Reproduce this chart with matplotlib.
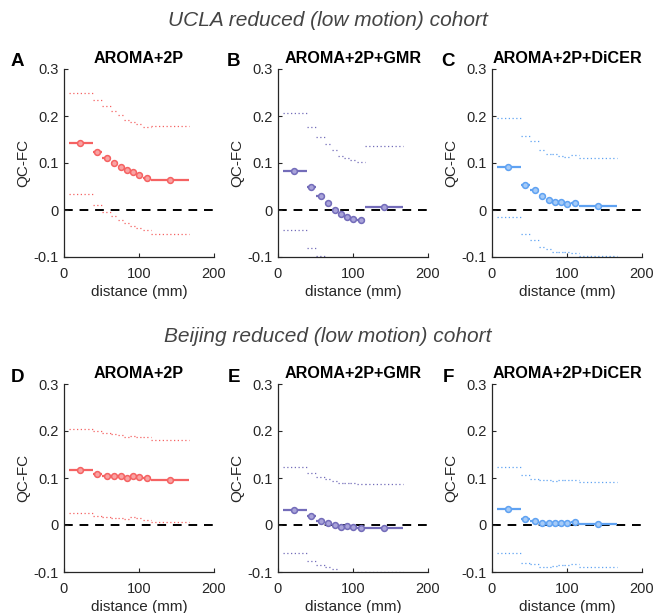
import matplotlib
matplotlib.use("Agg")
import matplotlib.pyplot as plt
import numpy as np

plt.rcParams['font.family'] = ['Liberation Sans', 'DejaVu Sans']

# ---- data ----
bin_edges = [6, 38, 51, 62, 72, 80, 88, 96, 105, 116, 166]
bin_centers = [21, 44.5, 57, 67, 76.5, 84.5, 92, 100.5, 110.5, 141]

x_ticks = [0, 100, 200]
y_ticks = [-0.1, 0, 0.1, 0.2, 0.3]
y_ticklabels = ['-0.1', '0', '0.1', '0.2', '0.3']

panel_letters = ['A', 'B', 'C', 'D', 'E', 'F']
panel_titles = ['AROMA+2P', 'AROMA+2P+GMR', 'AROMA+2P+DiCER'] * 2
cohort_titles = ['UCLA reduced (low motion) cohort', 'Beijing reduced (low motion) cohort']

ucla_aroma = [0.142, 0.1225, 0.110, 0.1005, 0.0913, 0.085, 0.080, 0.075, 0.068, 0.0644]
ucla_aroma_hi = [0.249, 0.234, 0.222, 0.211, 0.202, 0.192, 0.188, 0.183, 0.176, 0.178]
ucla_aroma_lo = [0.033, 0.010, -0.004, -0.012, -0.021, -0.028, -0.033, -0.0375, -0.042, -0.051]

ucla_gmr = [0.0828, 0.0488, 0.0304, 0.0149, 0.0, -0.0092, -0.0149, -0.019, -0.022, 0.0057]
ucla_gmr_hi = [0.2067, 0.1756, 0.1558, 0.1395, 0.128, 0.1154, 0.110, 0.106, 0.103, 0.137]
ucla_gmr_lo = [-0.043, -0.081, -0.097, -0.11, -0.12, -0.125, -0.13, -0.13, -0.13, -0.12]

ucla_dicer = [0.0906, 0.053, 0.0418, 0.0297, 0.021, 0.0163, 0.017, 0.0135, 0.014, 0.0085]
ucla_dicer_hi = [0.195, 0.158, 0.1465, 0.127, 0.120, 0.1196, 0.115, 0.1125, 0.116, 0.1097]
ucla_dicer_lo = [-0.0156, -0.052, -0.064, -0.0786, -0.083, -0.089, -0.089, -0.089, -0.0906, -0.097]

bj_aroma = [0.1165, 0.1087, 0.105, 0.1037, 0.1037, 0.1009, 0.1037, 0.103, 0.100, 0.095]
bj_aroma_hi = [0.205, 0.199, 0.196, 0.193, 0.191, 0.188, 0.190, 0.188, 0.187, 0.181]
bj_aroma_lo = [0.025, 0.020, 0.017, 0.014, 0.014, 0.012, 0.017, 0.015, 0.0107, 0.0064]

bj_gmr = [0.0327, 0.0185, 0.0092, 0.005, 0.0007, -0.005, -0.003, -0.005, -0.0064, -0.0064]
bj_gmr_hi = [0.1236, 0.1115, 0.102, 0.0988, 0.0938, 0.0895, 0.0895, 0.0888, 0.088, 0.0874]
bj_gmr_lo = [-0.060, -0.0767, -0.0845, -0.089, -0.0945, -0.102, -0.103, -0.102, -0.0995, -0.0995]

bj_dicer = [0.0334, 0.0135, 0.0078, 0.0043, 0.0043, 0.0036, 0.005, 0.005, 0.0064, 0.002]
bj_dicer_hi = [0.1236, 0.106, 0.0988, 0.0966, 0.095, 0.0938, 0.096, 0.0966, 0.0966, 0.091]
bj_dicer_lo = [-0.059, -0.081, -0.0838, -0.0895, -0.0895, -0.088, -0.086, -0.086, -0.0838, -0.090]

series = [
    (ucla_aroma, ucla_aroma_hi, ucla_aroma_lo),
    (ucla_gmr, ucla_gmr_hi, ucla_gmr_lo),
    (ucla_dicer, ucla_dicer_hi, ucla_dicer_lo),
    (bj_aroma, bj_aroma_hi, bj_aroma_lo),
    (bj_gmr, bj_gmr_hi, bj_gmr_lo),
    (bj_dicer, bj_dicer_hi, bj_dicer_lo),
]

line_colors = ['#F56262', '#736CB9', '#5FA2F2'] * 2
face_colors = ['#F9A3A3', '#A9A3DA', '#A6CBF7'] * 2

# ---- layout ----
W, H = 653, 613
fig = plt.figure(figsize=(W / 100, H / 100), dpi=100)

col_left = [64, 278, 492]
ax_w = 150
row_top = [69, 384]
ax_h = 188
text_col = '#262626'

left_lo = bin_edges[:-1]
right_hi = bin_edges[1:]

for i in range(6):
    r, c = divmod(i, 3)
    ax = fig.add_axes([col_left[c] / W, 1 - (row_top[r] + ax_h) / H, ax_w / W, ax_h / H])
    vals, hi, lo = series[i]
    col = line_colors[i]
    ax.axhline(0, color='black', lw=1.4, ls=(0, (4.5, 3.5)), zorder=1)
    ax.hlines(hi, left_lo, right_hi, colors=col, linestyles=(0, (1, 2.0)), lw=0.9, zorder=2)
    ax.hlines(lo, left_lo, right_hi, colors=col, linestyles=(0, (1, 2.0)), lw=0.9, zorder=2)
    ax.hlines(vals, left_lo, right_hi, colors=col, lw=1.6, zorder=3)
    ax.plot(bin_centers, vals, 'o', ms=4.2, mfc=face_colors[i], mec=col, mew=1.1, zorder=4)

    ax.set_xlim(0, 200)
    ax.set_ylim(-0.1, 0.3)
    ax.set_xticks(x_ticks)
    ax.set_yticks(y_ticks)
    ax.set_yticklabels(y_ticklabels)
    for s in ['top', 'right']:
        ax.spines[s].set_visible(False)
    for s in ['left', 'bottom']:
        ax.spines[s].set_color(text_col)
        ax.spines[s].set_linewidth(0.9)
    ax.tick_params(direction='in', length=3, width=0.8, colors=text_col,
                   labelsize=10.5, pad=7)
    ax.tick_params(axis='y', pad=4)
    ax.set_xlabel('distance (mm)', fontsize=11, color=text_col, labelpad=3)
    ax.set_ylabel('QC-FC', fontsize=11, color=text_col, labelpad=2)
    ax.set_title(panel_titles[i], fontsize=11.6, fontweight='bold', color='black', pad=4)

    lx = [17, 234, 448][c]
    ly = [62, 378][r]
    fig.text(lx / W, 1 - ly / H, panel_letters[i], fontsize=13.5, fontweight='bold',
             ha='center', va='center', color='black')

fig.text(328 / W, 1 - 21 / H, cohort_titles[0], fontsize=15, style='italic',
         ha='center', va='center', color='#444444')
fig.text(328 / W, 1 - 337 / H, cohort_titles[1], fontsize=15, style='italic',
         ha='center', va='center', color='#444444')

fig.savefig('out.png', dpi=100)
